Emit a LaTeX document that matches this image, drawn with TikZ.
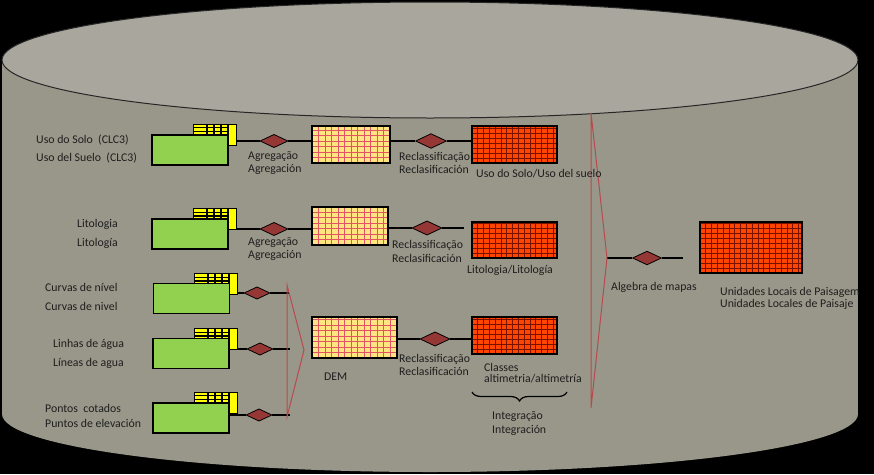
\documentclass[tikz,border=0pt]{standalone}
\usepackage{fontspec}
\setmainfont{Carlito}
\usetikzlibrary{shapes.geometric,decorations.pathreplacing}
\definecolor{bgtop}{RGB}{168,166,157}
\definecolor{bgbody}{RGB}{153,151,138}
\definecolor{grn}{RGB}{146,208,80}
\definecolor{ylw}{RGB}{255,255,0}
\definecolor{orgfill}{RGB}{255,228,128}
\definecolor{orgline}{RGB}{226,84,100}
\definecolor{redfill}{RGB}{255,69,0}
\definecolor{redline}{RGB}{120,18,0}
\definecolor{dia}{RGB}{149,55,53}
\definecolor{brk}{RGB}{184,74,79}
\definecolor{txt}{RGB}{30,30,30}
\tikzset{
  cells/.style n args={3}{path picture={
    \foreach \k in {1,...,40}{
      \draw[#1, line width=0.9pt] ([xshift={\k*#2pt}]path picture bounding box.south west) -- ([xshift={\k*#2pt}]path picture bounding box.north west);
      \draw[#1, line width=0.9pt] ([yshift={\k*#3pt}]path picture bounding box.south west) -- ([yshift={\k*#3pt}]path picture bounding box.south east);
    }}},
  tbl/.style={draw=black, line width=1pt, fill=ylw, inner sep=0pt, minimum width=43pt, minimum height=21pt,
    path picture={
      \draw[black, line width=1.1pt] ([yshift=-3.8pt]path picture bounding box.north west) -- ++(35pt,0pt)
        ([yshift=-7.5pt]path picture bounding box.north west) -- ++(35pt,0pt);
      \foreach \dx in {14,21,28,35}
        \draw[black, line width=1.1pt] ([xshift=\dx pt]path picture bounding box.north west) -- ++(0pt,-21pt);
    }},
  grnbox/.style={draw=black, line width=1.1pt, fill=grn, inner sep=0pt, minimum width=76pt, minimum height=30pt},
  orgbox/.style={draw=black, line width=1.1pt, fill=orgfill, inner sep=0pt, cells={orgline}{6.5}{5.5}},
  redbox/.style={draw=black, line width=1.1pt, fill=redfill, inner sep=0pt, cells={redline}{5.8}{5}},
  dmd/.style={diamond, draw=black, line width=0.8pt, fill=dia, inner sep=0pt, aspect=2.1, minimum width=#1pt, minimum height={#1/2.1 pt}},
  conn/.style={draw=black, line width=1.3pt},
  brkl/.style={draw=brk, line width=1pt},
  lbl/.style={anchor=west, inner sep=0pt, text=txt, font=\fontsize{11.8}{14}\selectfont}
}
\begin{document}
\begin{tikzpicture}[x=1pt,y=-1pt]
\useasboundingbox (0,0) rectangle (874,474);
\fill[black] (0,0) rectangle (874,474);
% cylinder
\fill[bgbody] (2,60) rectangle (858,414);
\fill[bgbody] (430,414) ellipse [x radius=428, y radius=58];
\filldraw[fill=bgtop, draw=black!85, line width=1pt] (430,60) ellipse [x radius=428, y radius=58];

% source layers
\node[tbl] (t1) at (214.5,134.5) {};
\node[grnbox] (g1) at (190,150) {};
\node[tbl] (t2) at (214.5,219) {};
\node[grnbox] (g2) at (190,234) {};
\node[tbl] (t3) at (215.5,284) {};
\node[grnbox] (g3) at (191.5,298.5) {};
\node[tbl] (t4) at (215.5,339) {};
\node[grnbox] (g4) at (191,353.5) {};
\node[tbl] (t5) at (215.5,402.5) {};
\node[grnbox] (g5) at (191,418) {};

% diamonds
\node[dmd=28] (d1) at (274,141) {};
\node[dmd=31] (d2) at (431,141) {};
\node[dmd=28] (d3) at (274,229) {};
\node[dmd=30] (d4) at (427,228) {};
\node[dmd=26] (d5) at (257,293) {};
\node[dmd=26] (d6) at (260,349) {};
\node[dmd=26] (d7) at (259,415) {};
\node[dmd=30] (d8) at (435,339) {};
\node[dmd=29] (d9) at (647,258) {};

% grids
\node[orgbox, minimum width=78pt, minimum height=37pt] (o1) at (351,144.5) {};
\node[orgbox, minimum width=76pt, minimum height=38pt] (o2) at (350,226) {};
\node[orgbox, minimum width=85pt, minimum height=41pt] (o3) at (354.5,337.5) {};
\node[redbox, minimum width=85pt, minimum height=37pt] (r1) at (514.5,144.5) {};
\node[redbox, minimum width=85pt, minimum height=36pt] (r2) at (514.5,240) {};
\node[redbox, minimum width=85pt, minimum height=37pt] (r3) at (514.5,335.5) {};
\node[redbox, minimum width=102pt, minimum height=51pt] (r4) at (751,247.5) {};

% bracket coordinates
\coordinate (b1a) at (287,285);
\coordinate (b1b) at (287,417);
\coordinate (b1t) at (304,350);
\coordinate (b2a) at (591,113);
\coordinate (b2b) at (591,408);
\coordinate (b2t) at (607,258);
\coordinate (e2) at (464,228);
\coordinate (e9) at (683,258);
\coordinate (bra) at (472,392);
\coordinate (brb) at (567,392);

% connectors
\draw[conn] (t1.east |- d1) -- (d1.west);
\draw[conn] (d1.east) -- (o1.west |- d1);
\draw[conn] (o1.east |- d2) -- (d2.west);
\draw[conn] (d2.east) -- (r1.west |- d2);
\draw[conn] (t2.east |- d3) -- (d3.west);
\draw[conn] (d3.east) -- (o2.west |- d3);
\draw[conn] (o2.east |- d4) -- (d4.west);
\draw[conn] (d4.east) -- (e2);
\draw[conn] (t3.east |- d5) -- (d5.west);
\draw[conn] (d5.east) -- ([xshift=2pt]b1a |- d5);
\draw[conn] (t4.east |- d6) -- (d6.west);
\draw[conn] (d6.east) -- ([xshift=3pt]b1a |- d6);
\draw[conn] (g5.east |- d7) -- (d7.west);
\draw[conn] (d7.east) -- ([xshift=3pt]b1a |- d7);
\draw[conn] (o3.east |- d8) -- (d8.west);
\draw[conn] (d8.east) -- (r3.west |- d8);
\draw[conn] (b2t) -- (d9.west);
\draw[conn] (d9.east) -- (e9);

% brackets
\draw[brkl] (b1a) -- (b1t) -- (b1b) -- cycle;
\draw[brkl] (b2a) -- (b2t) -- (b2b) -- cycle;
\draw[line width=1.2pt, decorate, decoration={brace, mirror, amplitude=9pt}] (bra) -- (brb);

% labels
\node[lbl] (l1a) at (36,140) {Uso do Solo\ \ (CLC3)};
\node[lbl] (l1b) at (36,158) {Uso del Suelo\ \ (CLC3)};
\node[lbl] (l2a) at (77,224) {Litologia};
\node[lbl] (l2b) at (77,243) {Litología};
\node[lbl] (l3a) at (45,287) {Curvas de nível};
\node[lbl] (l3b) at (45,306) {Curvas de nivel};
\node[lbl] (l4a) at (53,344) {Linhas de água};
\node[lbl] (l4b) at (53,363) {Líneas de agua};
\node[lbl] (l5a) at (45,408) {Pontos\ \ cotados};
\node[lbl] (l5b) at (45,423) {Puntos de elevación};
\node[lbl] (a1a) at (248,157) {Agregação};
\node[lbl] (a1b) at (248,169) {Agregación};
\node[lbl] (a2a) at (248,243) {Agregação};
\node[lbl] (a2b) at (248,255) {Agregación};
\node[lbl] (c1a) at (399,157) {Reclassificação};
\node[lbl] (c1b) at (399,169) {Reclasificación};
\node[lbl] (c2a) at (392,245) {Reclassificação};
\node[lbl] (c2b) at (392,258) {Reclasificación};
\node[lbl] (c3a) at (399,359) {Reclassificação};
\node[lbl] (c3b) at (399,371) {Reclasificación};
\node[lbl] (u1) at (476,174) {Uso do Solo/Uso del suelo};
\node[lbl] (u2) at (467,270) {Litologia/Litología};
\node[lbl] (dem) at (324,377) {DEM};
\node[lbl] (cl1) at (484,367) {Classes};
\node[lbl] (cl2) at (484,379) {altimetria/altimetría};
\node[lbl] (i1) at (492,417) {Integração};
\node[lbl] (i2) at (492,430) {Integración};
\node[lbl] (alg) at (611,287) {Algebra de mapas};
\node[lbl] (un1) at (720,292) {Unidades Locais de Paisagem};
\node[lbl] (un2) at (720,304) {Unidades Locales de Paisaje};
\end{tikzpicture}
\end{document}
